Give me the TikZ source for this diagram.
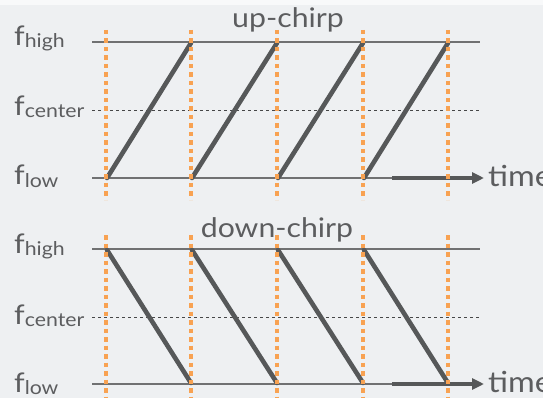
\documentclass[tikz,border=0pt]{standalone}
\usepackage{fontspec}
\setmainfont[FakeStretch=1.12]{Lato}
\usetikzlibrary{arrows.meta}
\definecolor{bgc}{RGB}{238,240,242}
\definecolor{topc}{RGB}{248,249,250}
\definecolor{axisc}{RGB}{112,113,114}
\definecolor{chirpc}{RGB}{86,88,89}
\definecolor{orangec}{RGB}{248,162,82}
\definecolor{textc}{RGB}{92,93,95}
\definecolor{centc}{RGB}{70,71,72}
\tikzset{
  axisline/.style={draw=axisc, line width=1.3pt},
  centerline/.style={draw=centc, line width=0.9pt, dash pattern=on 3pt off 3pt},
  guide/.style={draw=orangec, line width=3.3pt, dash pattern=on 4.5pt off 4pt},
  chirpline/.style={draw=chirpc, line width=4.6pt, line cap=round},
  timearrow/.style={draw=chirpc, line width=3.8pt, -{Triangle[length=12pt,width=11pt]}},
  flabel/.style={anchor=base west, inner sep=0pt, text=textc, font=\fontsize{27}{27}\selectfont},
  title/.style={anchor=base, inner sep=0pt, text=textc, font=\fontsize{27}{27}\selectfont},
  timelabel/.style={anchor=base west, inner sep=0pt, text=textc, font=\fontsize{29}{29}\selectfont},
}
\newcommand{\fsub}[1]{f\raisebox{-2pt}{\fontsize{19}{19}\selectfont #1}}
\begin{document}
\begin{tikzpicture}[x=1pt,y=-1pt]
\useasboundingbox (0,0) rectangle (543,398);
\fill[bgc] (0,0) rectangle (543,398);
\fill[topc] (0,0) rectangle (543,5);

% ---------- upper panel ----------
\node[title] (uptitle) at (288,28) {up-chirp};
\coordinate (uhl) at (92,42);  \coordinate (uhr) at (480,42);
\coordinate (ucl) at (92,110); \coordinate (ucr) at (480,110);
\coordinate (ull) at (92,178); \coordinate (ulr) at (480,178);
\draw[axisline] (uhl) -- (uhr);
\draw[centerline] (ucl) -- (ucr);
\draw[axisline] (ull) -- (ulr);
\foreach \x [count=\i] in {106,191,277,363,448} {
  \coordinate (ut\i) at (\x,30);
  \coordinate (ub\i) at (\x,200);
  \coordinate (uh\i) at (\x,43);
  \coordinate (ul\i) at (\x+1,178);
}
\foreach \a/\b in {1/2,2/3,3/4,4/5} { \draw[chirpline] (ul\a) -- (uh\b); }
\coordinate (uas) at (392,178); \coordinate (uae) at (484,178);
\draw[timearrow] (uas) -- (uae);
\foreach \i in {1,...,5} { \draw[guide] (ut\i) -- (ub\i); }
\node[timelabel] (utime) at (488,186) {time};
\node[flabel] (uhigh) at (14,46) {\fsub{high}};
\node[flabel] (ucent) at (14,116) {\fsub{center}};
\node[flabel] (ulow) at (14,185) {\fsub{low}};

% ---------- lower panel ----------
\node[title] (dntitle) at (277,237) {down-chirp};
\coordinate (dhl) at (92,249);  \coordinate (dhr) at (480,249);
\coordinate (dcl) at (92,317); \coordinate (dcr) at (480,317);
\coordinate (dll) at (92,384); \coordinate (dlr) at (480,384);
\draw[axisline] (dhl) -- (dhr);
\draw[centerline] (dcl) -- (dcr);
\draw[axisline] (dll) -- (dlr);
\foreach \x [count=\i] in {106,191,277,363,448} {
  \coordinate (dt\i) at (\x,235);
  \coordinate (db\i) at (\x,400);
  \coordinate (dh\i) at (\x+1,250);
  \coordinate (dl\i) at (\x,383);
}
\foreach \a/\b in {1/2,2/3,3/4,4/5} { \draw[chirpline] (dh\a) -- (dl\b); }
\coordinate (das) at (392,384); \coordinate (dae) at (484,384);
\draw[timearrow] (das) -- (dae);
\foreach \i in {1,...,5} { \draw[guide] (dt\i) -- (db\i); }
\node[timelabel] (dtime) at (488,392) {time};
\node[flabel] (dhigh) at (14,253) {\fsub{high}};
\node[flabel] (dcent) at (14,324) {\fsub{center}};
\node[flabel] (dlow) at (14,392) {\fsub{low}};
\end{tikzpicture}
\end{document}
